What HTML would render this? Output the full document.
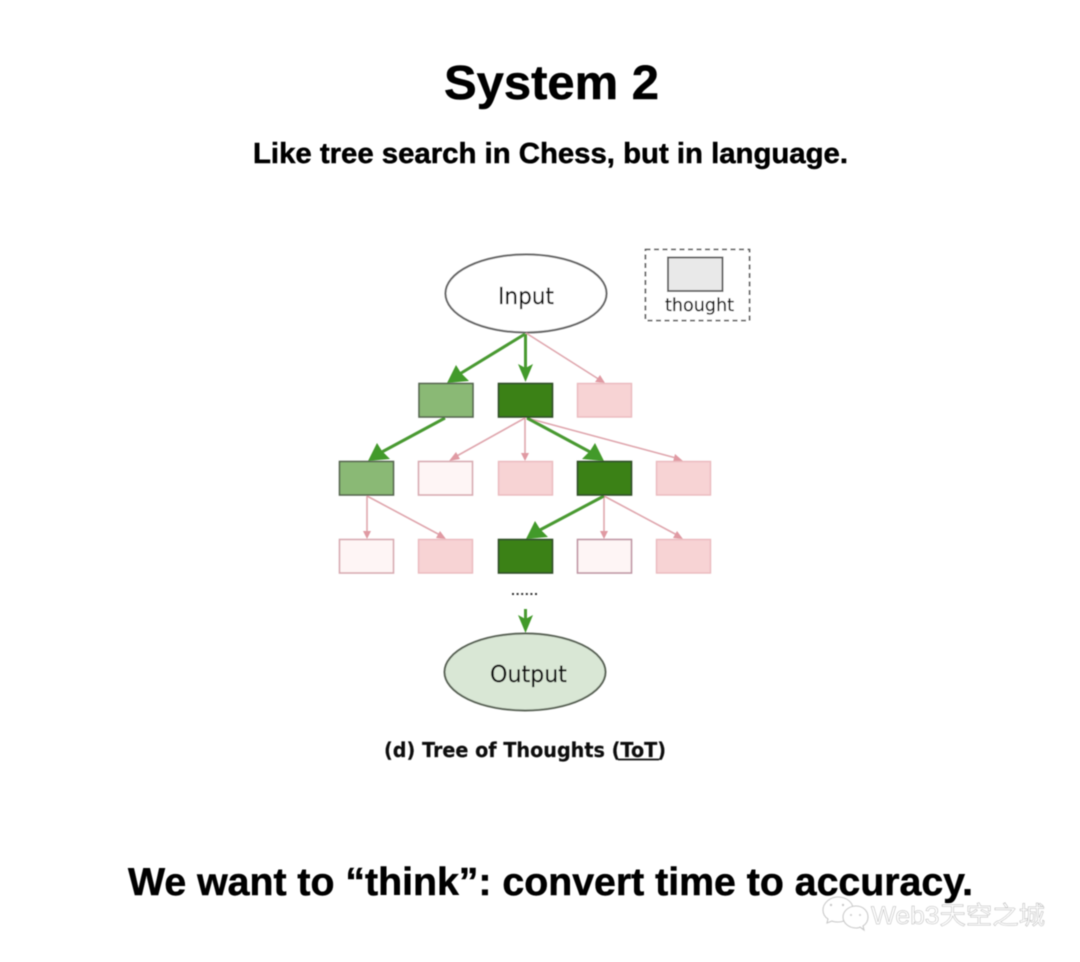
<!DOCTYPE html>
<html>
<head>
<meta charset="utf-8">
<style>
html,body{margin:0;padding:0;background:#fff;width:1080px;height:962px;overflow:hidden}
svg{display:block}
.h{font-family:"Liberation Sans",sans-serif;font-weight:700;fill:#000;stroke:#000;stroke-width:.5}
.d{font-family:"DejaVu Sans",sans-serif;fill:#111;stroke:#111;stroke-width:.2}
</style>
</head>
<body>
<svg width="1080" height="962" viewBox="0 0 1080 962" xmlns="http://www.w3.org/2000/svg">
<defs>
<filter id="b" x="-5%" y="-5%" width="110%" height="110%"><feGaussianBlur stdDeviation="0.55"/></filter>
</defs>
<rect width="1080" height="962" fill="#fff"/>
<g filter="url(#b)">
<text class="h" x="444" y="99" font-size="48" textLength="215" lengthAdjust="spacingAndGlyphs">System 2</text>
<text class="h" x="253" y="163" font-size="28.5" textLength="595" lengthAdjust="spacingAndGlyphs">Like tree search in Chess, but in language.</text>
<text class="h" x="128" y="895" font-size="39" textLength="845" lengthAdjust="spacingAndGlyphs">We want to “think”: convert time to accuracy.</text>

<ellipse cx="526" cy="293.5" rx="80.5" ry="39" fill="#fff" stroke="#666" stroke-width="2"/>
<text class="d" x="498" y="304" font-size="23" textLength="56" lengthAdjust="spacingAndGlyphs">Input</text>

<rect x="645.5" y="249.5" width="104" height="71" fill="#fff" stroke="#555" stroke-width="1.6" stroke-dasharray="5 3.5"/>
<rect x="668" y="257.5" width="54.5" height="33.5" fill="#e9e9e9" stroke="#5e5e5e" stroke-width="1.9"/>
<text class="d" x="665" y="311" font-size="18" textLength="69" lengthAdjust="spacingAndGlyphs">thought</text>

<!-- pink connectors -->
<g stroke="#dfa6ad" stroke-width="1.6" fill="#e09aa3">
<line x1="526" y1="333" x2="600" y2="380"/>
<polygon points="605,383 595,382 600,375" stroke="none"/>
<line x1="525" y1="418" x2="455" y2="457"/>
<polygon points="449,461 456,452 460,459" stroke="none"/>
<line x1="525" y1="418" x2="525" y2="456"/>
<polygon points="525,461 521,453 529,453" stroke="none"/>
<line x1="527" y1="418" x2="676" y2="458"/>
<polygon points="683,461 673,462 675,454" stroke="none"/>
<line x1="367" y1="496" x2="367" y2="534"/>
<polygon points="367,539 363,531 371,531" stroke="none"/>
<line x1="367" y1="496" x2="440" y2="535"/>
<polygon points="446,539 436,538 440,531" stroke="none"/>
<line x1="604" y1="496" x2="604" y2="534"/>
<polygon points="604,539 600,531 608,531" stroke="none"/>
<line x1="604" y1="496" x2="677" y2="535"/>
<polygon points="683,539 673,538 677,531" stroke="none"/>
</g>

<!-- green connectors -->
<g stroke="#4a9a32" stroke-width="3" fill="#439a2a">
<line x1="525" y1="334" x2="458" y2="375"/>
<polygon points="447,383 456,365 461,373 469,381" stroke="none"/>
<line x1="525.5" y1="334" x2="525.5" y2="368"/>
<polygon points="525.5,382 518,364 525.5,368 533,364" stroke="none"/>
<line x1="445" y1="418" x2="380" y2="453"/>
<polygon points="368,461 377,443 382,451 390,459" stroke="none"/>
<line x1="527" y1="418" x2="592" y2="453"/>
<polygon points="604,461 582,459 590,451 595,443" stroke="none"/>
<line x1="604" y1="496" x2="538" y2="531"/>
<polygon points="526,539 535,521 540,529 548,537" stroke="none"/>
<line x1="525.5" y1="609" x2="525.5" y2="620"/>
<polygon points="525.5,633 518,615 525.5,619 533,615" stroke="none"/>
</g>

<!-- row 1 -->
<rect x="419" y="383.5" width="54" height="33.5" fill="#8ab975" stroke="#56664f" stroke-width="1.6"/>
<rect x="498.5" y="383.5" width="54" height="33.5" fill="#3a8119" stroke="#2f4d25" stroke-width="1.6"/>
<rect x="577.5" y="383.5" width="54" height="33.5" fill="#f7d3d4" stroke="#eab9bd" stroke-width="1.4"/>
<!-- row 2 -->
<rect x="339.5" y="461.5" width="54" height="33.5" fill="#8ab975" stroke="#56664f" stroke-width="1.6"/>
<rect x="418.5" y="461.5" width="54" height="33.5" fill="#fef5f5" stroke="#d8aab1" stroke-width="1.6"/>
<rect x="498.5" y="461.5" width="54" height="33.5" fill="#f7d3d4" stroke="#eab9bd" stroke-width="1.4"/>
<rect x="577.5" y="461.5" width="54" height="33.5" fill="#3a8119" stroke="#2f4d25" stroke-width="1.6"/>
<rect x="656.5" y="461.5" width="54" height="33.5" fill="#f7d3d4" stroke="#eab9bd" stroke-width="1.4"/>
<!-- row 3 -->
<rect x="339.5" y="539.5" width="54" height="33.5" fill="#fef5f5" stroke="#d8aab1" stroke-width="1.6"/>
<rect x="418.5" y="539.5" width="54" height="33.5" fill="#f7d3d4" stroke="#eab9bd" stroke-width="1.4"/>
<rect x="498.5" y="539.5" width="54" height="33.5" fill="#3a8119" stroke="#2f4d25" stroke-width="1.6"/>
<rect x="577.5" y="539.5" width="54" height="33.5" fill="#fef5f5" stroke="#bf95a3" stroke-width="1.6"/>
<rect x="656.5" y="539.5" width="54" height="33.5" fill="#f7d3d4" stroke="#eab9bd" stroke-width="1.4"/>

<line x1="512" y1="594" x2="539" y2="594" stroke="#333" stroke-width="2" stroke-dasharray="2 2.6"/>

<ellipse cx="525" cy="672" rx="80.5" ry="38.5" fill="#d9e7d5" stroke="#5a6356" stroke-width="2"/>
<text class="d" x="490" y="682" font-size="23" textLength="77" lengthAdjust="spacingAndGlyphs">Output</text>

<text class="d" x="384" y="757" font-size="20.5" font-weight="700" textLength="282" lengthAdjust="spacingAndGlyphs">(d) Tree of Thoughts (ToT)</text>
<line x1="618" y1="759.5" x2="659" y2="759.5" stroke="#111" stroke-width="1.8"/>

<!-- watermark -->
<g fill="#fff" stroke="#c8c8c8" stroke-width="1.1">
<path d="M838 897c-8 0-15 6-15 13 0 4 2 7 5 9l-1 4 5-2c2 1 4 1 6 1 8 0 15-6 15-13s-7-12-15-12z"/>
<path d="M856 906c-7 0-13 5-13 11s6 11 13 11c1 0 3 0 4-1l4 3-1-4c3-2 5-5 5-9 0-6-5-11-12-11z"/>
</g>
<g fill="#c8c8c8">
<circle cx="831" cy="905" r="1.2"/><circle cx="843" cy="905" r="1.2"/>
<circle cx="851" cy="915" r="1"/><circle cx="860" cy="915" r="1"/>
</g>
<text x="871" y="924" font-size="25" textLength="174" lengthAdjust="spacingAndGlyphs" fill="#fff" stroke="#b4b4b4" stroke-width="0.5" style="font-family:'Liberation Sans','Noto Sans CJK SC',sans-serif">Web3天空之城</text>
</g>
</svg>
</body>
</html>
